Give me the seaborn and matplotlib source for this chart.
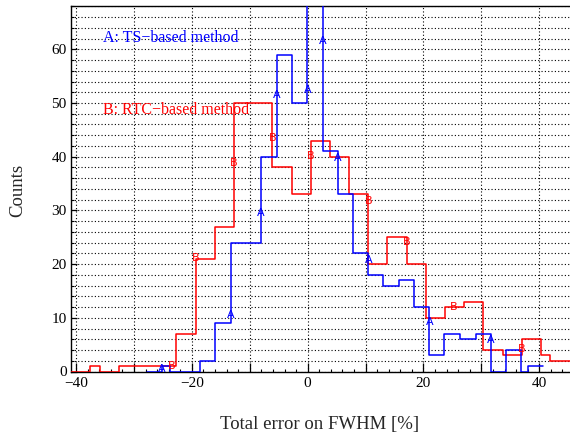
import numpy as np
import pandas as pd
import matplotlib
matplotlib.use("Agg")
import matplotlib.pyplot as plt
import seaborn as sns
from matplotlib.ticker import MultipleLocator, FuncFormatter

# ---- data ----
ts_edges = [-27.69, -25.20, -23.77, -18.59, -16.00, -13.29, -8.01, -5.35, -2.65,
            -0.06, 2.60, 5.19, 7.88, 10.47, 13.06, 15.77, 18.41, 21.00, 23.59,
            26.30, 29.01, 31.60, 34.19, 36.83, 38.10, 40.69]
ts_counts = [0, 1, 0, 2, 9, 24, 40, 59, 50, 70, 41, 33, 22, 18, 16, 17, 12, 3,
             7, 6, 7, 0, 4, 0, 1]

rtc_edges = [-41.50, -37.58, -35.86, -32.52, -22.73, -19.28, -16.00, -12.67,
             -6.11, -2.65, 0.52, 3.86, 7.19, 10.47, 13.75, 17.10, 20.43, 23.71,
             26.99, 30.33, 33.67, 36.96, 40.24, 41.84, 46.00]
rtc_counts = [0, 1, 0, 1, 7, 21, 27, 50, 38, 33, 43, 40, 33, 20, 25, 20, 10,
              12, 13, 4, 3, 6, 3, 2]

ts_mark_x = [-25.20, -13.29, -8.06, -5.35, -0.06, 2.60, 5.19, 10.47, 21.00, 31.60]
ts_mark_y = [0.5, 10.5, 29.5, 51.5, 52.5, 61.6, 39.7, 20.8, 9.3, 5.9]
rtc_mark_x = [-23.48, -19.28, -12.72, -6.11, 0.52, 10.47, 17.10, 25.15, 36.96]
rtc_mark_y = [1.0, 21.1, 38.8, 43.4, 40.1, 31.8, 24.2, 12.1, 4.1]

series_labels = ["A: TS\u2212based method", "B: RTC\u2212based method"]
x_label = "Total error on FWHM [%]"
y_label = "Counts"

# ---- style ----
sns.set_theme(style="white")
plt.rcParams["font.family"] = ["Liberation Serif", "DejaVu Serif"]
plt.rcParams["axes.edgecolor"] = "black"
plt.rcParams["axes.linewidth"] = 1.0

fig = plt.figure(figsize=(5.70, 4.41), dpi=100)
ax = fig.add_axes([70.7 / 570, (441 - 371.5) / 441, 499.3 / 570, 365.5 / 441])

def centers(edges):
    e = np.asarray(edges)
    return (e[:-1] + e[1:]) / 2

rtc_df = pd.DataFrame({"x": centers(rtc_edges), "w": rtc_counts})
ts_df = pd.DataFrame({"x": centers(ts_edges), "w": ts_counts})

sns.histplot(data=rtc_df, x="x", weights="w", bins=rtc_edges, element="step",
             fill=False, color="#ff0000", linewidth=1.1, ax=ax, zorder=3)
sns.histplot(data=ts_df, x="x", weights="w", bins=ts_edges, element="step",
             fill=False, color="#0000ff", linewidth=1.1, ax=ax, zorder=4)

for x, y in zip(ts_mark_x, ts_mark_y):
    ax.text(x, y, "A", color="#0000ff", fontsize=8, ha="center", va="center",
            family="DejaVu Sans", zorder=5)
for x, y in zip(rtc_mark_x, rtc_mark_y):
    ax.text(x, y, "B", color="#ff0000", fontsize=8, ha="center", va="center",
            family="DejaVu Sans", zorder=5)

ax.text(-35.34, 62.1, series_labels[0], color="#0000ff", fontsize=11.5,
        ha="left", va="center")
ax.text(-35.34, 48.7, series_labels[1], color="#ff0000", fontsize=11.5,
        ha="left", va="center")

ax.set_xlim(-40.92, 45.3)
ax.set_ylim(0, 68.06)

ax.xaxis.set_major_locator(MultipleLocator(10))
ax.xaxis.set_minor_locator(MultipleLocator(2))
ax.yaxis.set_major_locator(MultipleLocator(10))
ax.yaxis.set_minor_locator(MultipleLocator(2))

def xfmt(v, p):
    iv = int(round(v))
    if iv % 20 != 0:
        return ""
    return str(iv).replace("-", "\u2212")

def yfmt(v, p):
    return str(int(round(v)))

ax.xaxis.set_major_formatter(FuncFormatter(xfmt))
ax.yaxis.set_major_formatter(FuncFormatter(yfmt))

ax.tick_params(axis="x", which="major", direction="in", length=6.5, width=0.9,
               labelsize=11, pad=4, top=False, bottom=True, colors="black")
ax.tick_params(axis="x", which="minor", direction="in", length=2.5, width=0.8,
               top=False, bottom=True, colors="black")
ax.tick_params(axis="y", which="major", direction="in", length=4.5, width=0.9,
               labelsize=11, pad=3, left=True, right=False, colors="black")
ax.tick_params(axis="y", which="minor", direction="in", length=2.5, width=0.8,
               left=True, right=False, colors="black")

ax.grid(True, axis="x", which="major", color="black", linestyle=(0, (1, 2)),
        linewidth=0.8)
ax.grid(True, axis="y", which="both", color="black", linestyle=(0, (1, 2)),
        linewidth=0.8)
ax.set_axisbelow(True)

ax.spines["right"].set_visible(False)
for s in ["left", "bottom", "top"]:
    ax.spines[s].set_color("black")
    ax.spines[s].set_linewidth(1.0)

ax.set_xlabel(x_label, fontsize=13.5, va="center")
ax.set_ylabel(y_label, fontsize=13.5, va="center")
ax.xaxis.set_label_coords((320 - 70.7) / 499.3, (371.5 - 425) / 365.5)
ax.yaxis.set_label_coords((18 - 70.7) / 499.3, (371.5 - 190) / 365.5)

fig.savefig("out.png", dpi=100)
